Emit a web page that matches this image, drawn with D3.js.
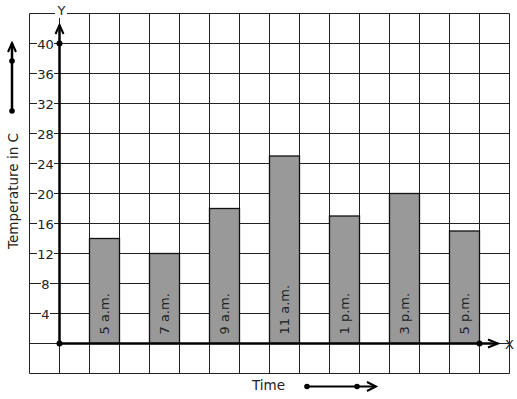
<!DOCTYPE html>
<html>
<head>
<meta charset="utf-8">
<script src="https://cdn.jsdelivr.net/npm/d3@7"></script>
<style>
  body { margin: 0; background: #fff; }
  svg { display: block; font-family: "DejaVu Sans", sans-serif; }
</style>
</head>
<body>
<div id="chart"></div>
<script>
// data
const times = ["5 a.m.", "7 a.m.", "9 a.m.", "11 a.m.", "1 p.m.", "3 p.m.", "5 p.m."];
const temps = [14, 12, 18, 25, 17, 20, 15];
const yTicks = [4, 8, 12, 16, 20, 24, 28, 32, 36, 40];

const width = 517, height = 399;

const svg = d3.select("#chart").append("svg")
    .attr("width", width)
    .attr("height", height);

// one grid cell = 30px; x unit = one cell, y unit = 4 degrees per cell
const x = d3.scaleLinear().domain([-1, 15]).range([29.5, 509.5]);
const y = d3.scaleLinear().domain([-4, 44]).range([373.5, 13.5]);

const ink = "#222";

// grid
const grid = svg.append("g").attr("stroke", ink).attr("stroke-width", 1);
grid.selectAll("line.v")
    .data(d3.range(-1, 16))
    .join("line")
    .attr("x1", d => x(d)).attr("x2", d => x(d))
    .attr("y1", y(44)).attr("y2", y(-4));
grid.selectAll("line.h")
    .data(d3.range(-4, 45, 4))
    .join("line")
    .attr("x1", x(-1)).attr("x2", x(15))
    .attr("y1", d => y(d)).attr("y2", d => y(d));

// bars
const bars = svg.append("g");
bars.selectAll("rect")
    .data(temps)
    .join("rect")
    .attr("x", (d, i) => x(2 * i + 1))
    .attr("width", x(1) - x(0))
    .attr("y", d => y(d))
    .attr("height", d => y(0) - y(d))
    .attr("fill", "#999999")
    .attr("stroke", "#111")
    .attr("stroke-width", 1.3);

bars.selectAll("text")
    .data(times)
    .join("text")
    .attr("transform", (d, i) => `translate(${x(2 * i + 1.5) + 4.5},${y(0) - 9}) rotate(-90)`)
    .attr("font-size", 13)
    .attr("fill", "#222")
    .text(d => d);

// axes
const axes = svg.append("g").attr("stroke", "#000").attr("stroke-width", 2.5).attr("fill", "none");
axes.append("line")
    .attr("x1", x(0)).attr("x2", x(0))
    .attr("y1", y(0)).attr("y2", 25);
axes.append("path").attr("d", `M${x(0) - 4},34 L${x(0)},25 L${x(0) + 4},34`).attr("stroke-width", 2);
axes.append("line")
    .attr("x1", x(0)).attr("x2", 498)
    .attr("y1", y(0)).attr("y2", y(0));
axes.append("path").attr("d", `M488,${y(0) - 4} L498,${y(0)} L488,${y(0) + 4}`).attr("stroke-width", 2);

const dots = [[x(0), y(0)], [x(0), y(40)], [x(14), y(0)]];
svg.selectAll("circle.axdot")
    .data(dots)
    .join("circle")
    .attr("cx", d => d[0]).attr("cy", d => d[1])
    .attr("r", 3).attr("fill", "#000");

// y tick labels with white background over the grid
const tl = svg.append("g").attr("font-size", 13).attr("fill", "#222").attr("text-anchor", "middle");
tl.selectAll("rect")
    .data(yTicks)
    .join("rect")
    .attr("x", d => d < 10 ? 41 : 37)
    .attr("width", d => d < 10 ? 9 : 17)
    .attr("y", d => y(d) - 6)
    .attr("height", 12)
    .attr("fill", "#fff");
tl.selectAll("text")
    .data(yTicks)
    .join("text")
    .attr("x", 45.5)
    .attr("y", d => y(d) + 5)
    .text(d => d);

// axis letters
svg.append("rect").attr("x", 55).attr("y", 8).attr("width", 12).attr("height", 10).attr("fill", "#fff");
svg.append("text").attr("x", 61.5).attr("y", 15).attr("font-size", 13).attr("fill", "#222")
    .attr("text-anchor", "middle").text("Y");
svg.append("text").attr("x", 505).attr("y", y(0) + 5).attr("font-size", 13).attr("fill", "#222").text("X");

// axis titles
svg.append("text")
    .attr("transform", "translate(18,191) rotate(-90)")
    .attr("text-anchor", "middle")
    .attr("font-size", 13.5)
    .attr("fill", "#222")
    .text("Temperature in C");
svg.append("text")
    .attr("x", 252).attr("y", 390)
    .attr("font-size", 13.5)
    .attr("fill", "#222")
    .text("Time");

// direction arrows
const dir = svg.append("g").attr("stroke", "#000").attr("fill", "none");
dir.append("line").attr("x1", 12).attr("x2", 12).attr("y1", 111).attr("y2", 43).attr("stroke-width", 2.5);
dir.append("path").attr("d", "M8,52 L12,43 L16,52").attr("stroke-width", 2);
dir.append("line").attr("x1", 307).attr("x2", 376).attr("y1", 386.5).attr("y2", 386.5).attr("stroke-width", 2);
dir.append("path").attr("d", "M367,382 L376,386.5 L367,391").attr("stroke-width", 2);
svg.selectAll("circle.dir")
    .data([[12, 111], [12, 61], [307, 386.5], [357, 386.5]])
    .join("circle")
    .attr("cx", d => d[0]).attr("cy", d => d[1])
    .attr("r", 2.8).attr("fill", "#000");
</script>
</body>
</html>
